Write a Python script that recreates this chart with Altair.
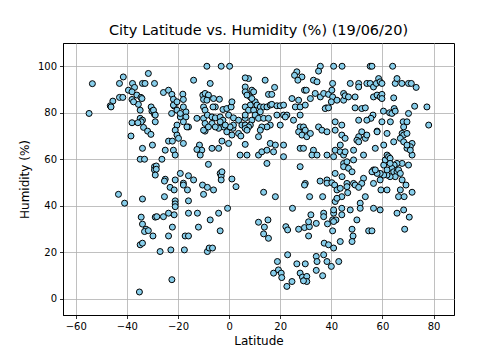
import altair as alt
import pandas as pd

title_text = "City Latitude vs. Humidity (%) (19/06/20)"
x_label = "Latitude"
y_label = "Humidity (%)"
x_ticks = [-60, -40, -20, 0, 20, 40, 60, 80]
y_ticks = [0, 20, 40, 60, 80, 100]

points = [
    # southern high latitudes
    (-53.5, 92.5), (-54.8, 79.7), (-41.4, 95.4), (-42.9, 92.6), (-31.6, 96.9), (-37.8, 92.6),
    (-33.9, 92.6), (-32.9, 92.6), (-29.2, 92.6), (-39.4, 89.7), (-37.0, 90.9), (-38.0, 89.0),
    (-42.9, 86.6), (-41.6, 86.6), (-45.5, 85.0), (-46.5, 83.0), (-46.2, 82.5), (-36.1, 87.6),
    (-34.5, 86.6), (-38.0, 85.7), (-35.5, 83.6), (-37.4, 84.7), (-34.1, 86.1), (-34.8, 81.1),
    (-30.5, 82.5), (-30.2, 80.7), (-29.2, 79.3), (-34.8, 77.6), (-33.9, 76.8), (-34.4, 76.1),
    (-38.0, 75.7), (-35.7, 75.7), (-33.5, 73.7), (-31.9, 72.1), (-30.6, 70.7), (-38.4, 70.0),
    (-30.0, 66.1), (-33.9, 64.7), (-34.8, 60.0), (-33.1, 60.0), (-29.2, 56.8), (-29.2, 55.4),
    (-43.3, 44.9), (-40.9, 41.1), (-33.9, 42.9), (-34.4, 35.1), (-33.9, 32.1), (-32.5, 29.9),
    (-33.1, 28.9), (-31.6, 29.3), (-29.8, 27.0), (-28.9, 35.1), (-34.8, 23.2), (-33.9, 23.9),
    (-35.1, 2.9),
    # southern tropics
    (-8.7, 100), (-3.1, 100), (0.2, 100), (-13.9, 94.0), (-7.4, 92.6), (-25.7, 88.7),
    (-23.7, 89.7), (-22.4, 87.9), (-21.8, 85.8), (-21.5, 82.9), (-20.4, 81.1), (-18.1, 88.0),
    (-17.9, 85.7), (-29.6, 81.1), (-28.9, 79.0), (-28.9, 76.1), (-22.5, 79.7), (-19.1, 78.2),
    (-16.9, 80.4), (-16.9, 78.2), (-15.9, 73.9), (-17.9, 76.1), (-20.4, 74.7), (-21.1, 72.5),
    (-20.4, 70.4), (-19.8, 69.0), (-23.7, 67.8), (-22.2, 67.8), (-17.9, 66.8), (-25.0, 63.9),
    (-21.8, 63.9), (-21.1, 61.8), (-26.3, 60.0), (-28.5, 57.1), (-28.5, 55.7), (-28.9, 53.2),
    (-25.0, 51.4), (-21.1, 51.1), (-19.1, 53.9), (-15.9, 52.9), (-12.6, 77.6), (-10.0, 77.6),
    (-9.4, 75.4), (-9.4, 72.1), (-10.3, 87.6), (-9.4, 88.3), (-8.1, 87.6), (-10.0, 85.7),
    (-8.7, 85.4), (-6.1, 86.1), (-3.8, 85.8), (-2.4, 81.4), (-0.9, 81.8), (0.8, 82.5),
    (1.1, 84.7), (-5.4, 82.5), (-6.3, 82.5), (-10.0, 82.5), (-9.4, 81.1), (-8.5, 79.0),
    (-6.7, 78.2), (-5.4, 77.8), (-3.5, 78.2), (-2.4, 76.8), (-2.2, 73.9), (-0.2, 79.0),
    (1.7, 77.8), (3.7, 76.8), (6.3, 77.6), (5.0, 74.7), (3.7, 71.1), (4.6, 70.0),
    (1.1, 70.4), (-0.9, 71.8), (1.5, 73.3), (-2.8, 67.8), (-4.1, 64.7), (-6.7, 64.7),
    (-11.6, 66.1), (-10.7, 63.9), (-12.6, 64.2), (-11.3, 61.8), (-8.1, 57.8), (-3.5, 53.9),
    (-3.1, 52.8), (1.1, 51.5), (4.3, 61.8), (-13.9, 51.1), (-17.9, 49.7),
    (-6.7, 75.4), (-10.0, 72.5), (-8.1, 73.9), (-4.1, 73.3), (-5.4, 73.9), (1.7, 74.7),
    (0.4, 73.9), (-1.5, 74.7), (-3.5, 76.1), (-21.8, 83.3), (-20.4, 84.7), (-17.9, 82.5),
    (-19.1, 79.7), (-16.5, 73.9), (-0.2, 66.8), (-2.8, 54.6),
    (-25.3, 50.6), (-23.1, 47.9), (-21.5, 46.8), (-17.9, 48.9), (-16.3, 46.8), (-10.4, 48.9),
    (-8.5, 47.9), (-6.1, 46.8), (-10.0, 44.9), (-3.1, 51.1), (2.7, 48.2), (-25.3, 43.9),
    (-21.1, 42.1), (-21.1, 40.8), (-21.1, 39.6), (-15.9, 42.1), (-28.3, 35.3), (-25.7, 35.3),
    (-23.7, 36.8), (-21.5, 36.1), (-15.9, 36.8), (-12.4, 36.8), (-4.1, 36.8), (-0.6, 38.9),
    (-7.4, 33.9), (-22.2, 30.8), (-12.0, 30.8), (-23.7, 27.0), (-17.2, 27.0), (-15.9, 27.0),
    (-3.5, 29.2), (-27.0, 20.3), (-22.8, 21.0), (-17.5, 21.0), (-8.5, 20.3), (-7.8, 21.8),
    (-6.5, 21.8), (-22.4, 8.2),
    # northern low/mid latitudes
    (35.7, 100), (40.9, 100), (44.2, 100), (26.5, 97.6), (25.6, 96.1), (28.5, 95.4),
    (26.9, 94.0), (35.0, 97.9), (33.0, 94.0), (34.4, 93.3), (40.5, 92.6), (7.6, 94.7),
    (6.3, 95.0), (14.1, 94.0), (6.3, 91.1), (8.9, 89.7), (9.6, 89.0), (17.8, 90.9),
    (15.4, 87.9), (16.7, 87.9), (8.3, 86.8), (6.3, 89.0), (29.5, 89.7), (30.2, 89.7),
    (31.8, 86.1), (33.7, 88.3), (35.7, 86.8), (37.0, 88.3), (38.9, 87.9), (40.2, 89.7),
    (40.5, 86.8), (40.0, 84.7), (38.0, 82.1), (42.2, 85.4), (44.8, 88.3), (44.8, 85.4),
    (24.6, 86.1), (27.2, 85.4), (25.9, 82.5), (27.8, 82.5), (29.8, 83.3), (37.6, 81.8),
    (38.9, 82.1), (10.2, 84.7), (10.9, 83.3), (12.2, 82.5), (13.5, 82.5), (14.8, 82.5),
    (16.1, 83.3), (16.7, 83.6), (18.7, 83.0), (20.0, 83.0), (21.3, 83.3), (7.0, 87.6),
    (8.9, 86.1), (8.3, 83.3), (6.3, 82.5), (7.6, 81.1), (9.6, 81.1), (12.2, 80.4),
    (10.2, 79.0), (6.3, 79.0), (11.5, 77.6), (13.5, 77.6), (15.4, 77.6), (8.9, 76.8),
    (8.3, 74.7), (6.3, 74.7), (7.6, 73.9), (6.3, 73.2), (7.0, 72.5), (18.7, 79.0),
    (21.3, 79.0), (22.6, 79.0), (16.1, 74.7), (14.8, 73.9), (12.8, 73.9), (11.5, 69.7),
    (12.2, 72.5), (20.0, 74.7), (22.0, 78.2), (25.2, 76.8), (27.8, 79.0), (27.8, 73.9),
    (29.1, 73.9), (27.2, 71.8), (28.5, 70.4), (30.4, 69.7), (29.8, 72.5), (31.8, 71.1),
    (35.0, 73.9), (36.3, 72.5), (38.3, 71.8), (41.5, 72.5), (41.5, 76.1), (44.1, 74.7),
    (44.1, 70.4), (45.4, 69.0), (6.3, 66.4), (7.0, 61.8), (11.5, 61.8), (12.8, 63.2),
    (14.8, 63.9), (16.1, 66.8), (17.4, 63.2), (18.1, 66.1), (21.3, 66.1), (21.3, 61.1),
    (27.8, 64.7), (29.1, 64.7), (33.0, 63.9), (32.4, 61.8), (34.4, 61.8), (38.3, 61.8),
    (40.9, 61.1), (41.5, 63.9), (43.5, 63.2), (44.8, 61.8), (44.8, 58.2), (41.5, 53.9),
    (38.3, 51.1), (27.8, 56.8), (29.8, 49.6), (14.8, 58.2),
    (13.5, 45.8), (18.1, 43.9), (29.5, 48.9), (31.5, 43.9), (36.6, 43.9), (35.6, 50.6),
    (38.3, 49.7), (40.2, 49.9), (41.3, 48.9), (42.2, 46.8), (43.5, 47.5), (44.1, 43.9),
    (41.5, 41.8), (42.2, 43.2), (24.8, 38.9), (11.5, 32.9), (15.2, 33.9), (13.8, 30.8),
    (13.5, 27.9), (15.4, 26.0), (22.2, 31.0), (22.9, 29.6), (27.2, 29.9), (29.5, 30.6),
    (31.4, 31.0), (31.1, 33.1), (32.0, 36.1), (31.1, 27.0), (34.1, 32.4), (37.0, 36.8),
    (37.0, 35.3), (38.5, 32.2), (40.9, 36.8), (40.5, 33.9), (41.8, 33.9), (40.9, 33.2),
    (44.1, 36.1), (40.5, 29.2), (44.1, 38.9), (40.9, 38.2), (37.2, 23.9), (38.9, 23.2),
    (40.9, 21.8), (43.5, 24.6), (18.9, 16.0), (22.9, 18.9), (17.4, 11.0), (19.3, 12.4),
    (20.4, 11.0), (20.6, 9.1), (22.6, 5.3), (24.6, 7.4), (26.5, 15.0), (29.8, 15.0),
    (27.8, 11.0), (28.7, 9.3), (29.8, 8.2), (30.4, 9.6), (30.4, 7.4), (29.1, 7.7),
    (34.1, 18.2), (34.4, 16.0), (34.1, 12.2), (36.6, 9.9), (38.3, 16.0), (40.0, 13.9),
    (42.9, 16.0), (37.0, 18.9),
    # northern high latitudes
    (55.2, 100), (55.9, 100), (64.0, 100), (47.4, 92.6), (50.7, 92.6), (50.7, 91.1),
    (53.9, 92.6), (55.2, 92.6), (56.5, 91.1), (57.6, 92.6), (58.5, 94.7), (59.1, 93.3),
    (59.8, 92.6), (65.0, 92.6), (65.7, 94.7), (67.6, 92.6), (70.2, 92.6), (71.3, 92.6),
    (73.2, 90.9), (45.4, 87.3), (46.7, 86.8), (49.3, 86.8), (56.5, 86.8), (57.9, 87.6),
    (59.1, 86.8), (59.8, 87.9), (59.8, 86.1), (64.4, 86.4), (49.3, 82.1), (51.9, 81.8),
    (53.3, 82.1), (56.3, 79.0), (55.5, 77.6), (53.9, 76.8), (50.7, 76.8), (60.4, 80.7),
    (62.8, 80.0), (63.7, 79.7), (64.6, 81.8), (65.0, 80.7), (70.2, 79.7), (72.6, 82.8),
    (77.4, 82.5), (78.1, 74.7), (63.1, 76.1), (59.8, 76.1), (57.9, 72.1), (68.1, 76.1),
    (69.6, 76.1), (68.3, 73.9), (67.7, 71.1), (68.3, 70.4), (69.6, 71.1), (71.6, 66.8),
    (70.9, 65.4), (69.6, 64.7), (71.6, 61.8), (70.2, 57.5), (67.7, 58.2), (65.7, 58.2),
    (64.6, 57.5), (63.7, 56.1), (64.4, 54.6), (65.7, 54.6), (66.3, 55.4), (67.0, 53.9),
    (65.0, 52.5), (63.0, 52.5), (61.8, 53.2), (60.5, 57.5), (61.1, 59.7), (61.8, 61.8),
    (62.4, 61.1), (63.0, 60.4), (63.0, 58.2), (60.5, 53.2), (59.1, 53.9), (57.9, 53.9),
    (56.5, 55.4), (59.1, 51.1), (61.8, 55.4), (51.9, 71.8), (53.3, 69.0), (50.7, 69.7),
    (50.0, 68.2), (53.9, 70.4), (57.2, 64.7), (60.5, 66.1), (52.6, 61.8), (50.7, 67.5),
    (57.9, 71.8), (61.8, 71.1), (64.4, 67.5), (67.0, 69.0), (68.3, 67.5), (69.6, 66.1),
    (70.9, 63.9), (43.5, 66.1), (45.4, 63.2), (48.7, 63.9), (46.1, 58.9), (48.7, 59.7),
    (44.8, 56.8), (46.7, 56.1), (48.1, 54.6), (44.2, 52.5), (55.9, 54.6), (57.2, 55.4),
    (52.6, 51.8), (56.5, 49.6), (48.7, 49.6), (51.9, 49.6), (46.1, 49.6), (46.1, 48.2),
    (46.4, 45.6), (49.3, 48.9), (50.7, 47.9), (53.3, 43.9), (51.3, 41.1), (51.3, 38.9),
    (47.4, 38.2), (50.0, 33.9), (48.1, 29.9), (48.5, 27.0), (48.1, 24.6), (59.4, 46.8),
    (61.8, 46.8), (56.5, 38.9), (59.1, 38.2), (54.6, 29.2), (55.9, 29.2), (67.7, 51.1),
    (69.2, 48.9), (67.0, 46.8), (66.3, 43.9), (68.5, 43.9), (71.6, 45.8), (65.7, 36.8),
    (68.3, 38.2), (70.5, 35.1), (68.7, 29.9),
]

latitude = [p[0] for p in points]
humidity = [p[1] for p in points]

df = pd.DataFrame({"Latitude": latitude, "Humidity": humidity})

chart = (
    alt.Chart(df)
    .mark_circle(size=36, color="#87ceeb", opacity=1, stroke="black", strokeWidth=1)
    .encode(
        x=alt.X(
            "Latitude:Q",
            title=x_label,
            scale=alt.Scale(domain=[-65, 88], nice=False, zero=False),
            axis=alt.Axis(values=x_ticks, format="d"),
        ),
        y=alt.Y(
            "Humidity:Q",
            title=y_label,
            scale=alt.Scale(domain=[-7, 110], nice=False, zero=False),
            axis=alt.Axis(values=y_ticks, format="d"),
        ),
    )
    .properties(
        width=391,
        height=272,
        title=alt.TitleParams(title_text, fontSize=14.5, font="DejaVu Sans", fontWeight="normal",
                              color="black", offset=5, anchor="middle"),
        autosize=alt.AutoSizeParams(type="none"),
        padding={"left": 63, "top": 43, "right": 50, "bottom": 45},
    )
    .configure_view(stroke="black", strokeWidth=1)
    .configure_axis(
        grid=True,
        gridColor="#b0b0b0",
        gridWidth=0.8,
        domainColor="black",
        domainWidth=1,
        tickColor="black",
        tickSize=3.5,
        tickWidth=0.8,
        labelFont="DejaVu Sans",
        labelFontSize=10,
        labelColor="black",
        titleFont="DejaVu Sans",
        titleFontSize=12,
        titleFontWeight="normal",
        titleColor="black",
        labelPadding=3,
    )
    .configure_axisX(titlePadding=4)
    .configure_axisY(titlePadding=6)
)

chart.save("out.html", embed_options={"renderer": "svg", "actions": False})
